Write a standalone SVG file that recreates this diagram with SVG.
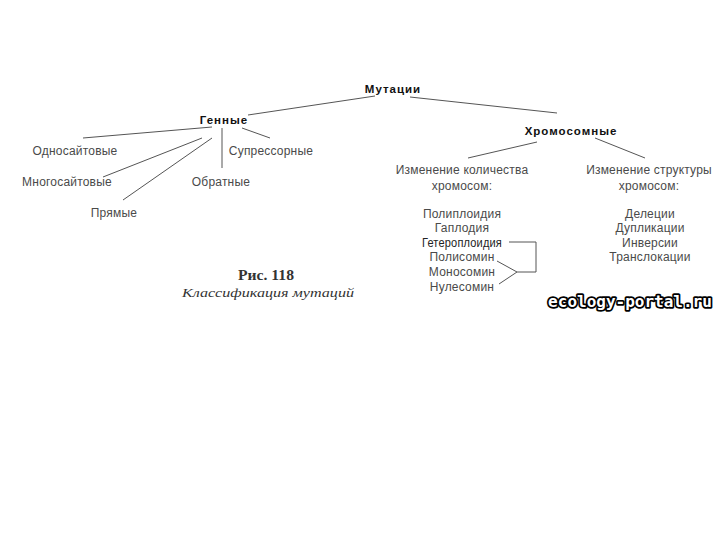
<svg xmlns="http://www.w3.org/2000/svg" width="720" height="540" viewBox="0 0 720 540">
<style>
.t{font-family:"Liberation Sans",Arial,sans-serif;font-size:12px;fill:#4a4a4a;text-anchor:middle;letter-spacing:0.2px}
.b{font-family:"Liberation Sans",Arial,sans-serif;font-size:11.5px;font-weight:bold;fill:#111;text-anchor:middle;letter-spacing:1px}
.c line,.c polyline{stroke:#555;stroke-width:1;fill:none}
.cap{font-family:"Liberation Serif","Times New Roman",serif;fill:#333;text-anchor:middle}
.wm{font-family:"DejaVu Sans Mono","Liberation Mono",monospace;font-size:16px;font-weight:bold;fill:#fff;stroke:#000;stroke-width:3.5;paint-order:stroke;stroke-linejoin:round;text-anchor:middle}
</style>
<rect width="720" height="540" fill="#fff"/>
<g class="c" id="connectors">
<line x1="375" y1="96" x2="248" y2="115"/>
<line x1="410" y1="97" x2="557" y2="113"/>
<line x1="212" y1="127" x2="83" y2="138"/>
<line x1="202" y1="138" x2="103" y2="177"/>
<line x1="212" y1="138" x2="123" y2="200"/>
<line x1="222" y1="128" x2="222" y2="168"/>
<line x1="242" y1="128" x2="270" y2="138"/>
<line x1="537" y1="142" x2="468" y2="158"/>
<line x1="595" y1="138" x2="645" y2="158"/>
<polyline points="509,242 536,242 536,272 517,272"/>
<polyline points="497,261 517,272 499,284"/>
</g>
<g id="root"><text class="b" x="393" y="93">Мутации</text></g>
<g id="gene"><text class="b" x="224" y="124">Генные</text></g>
<g id="chrom"><text class="b" x="571" y="135">Хромосомные</text></g>
<g id="g1"><text class="t" x="75" y="155">Односайтовые</text></g>
<g id="g2"><text class="t" x="271" y="155">Супрессорные</text></g>
<g id="g3"><text class="t" x="67" y="186">Многосайтовые</text></g>
<g id="g4"><text class="t" x="221" y="186">Обратные</text></g>
<g id="g5"><text class="t" x="114" y="217">Прямые</text></g>
<g id="c1"><text class="t" x="462" y="174">Изменение количества</text><text class="t" x="462" y="190">хромосом:</text></g>
<g id="c2"><text class="t" x="649" y="174">Изменение структуры</text><text class="t" x="649" y="190">хромосом:</text></g>
<g id="c1list">
<text class="t" x="462" y="218">Полиплоидия</text>
<text class="t" x="462" y="232">Гаплодия</text>
<text class="t" x="462" y="247" style="fill:#222" textLength="80" lengthAdjust="spacingAndGlyphs">Гетероплоидия</text>
<text class="t" x="462" y="261">Полисомин</text>
<text class="t" x="462" y="276">Моносомин</text>
<text class="t" x="462" y="291">Нулесомин</text>
</g>
<g id="c2list">
<text class="t" x="650" y="218">Делеции</text>
<text class="t" x="650" y="232">Дупликации</text>
<text class="t" x="650" y="247">Инверсии</text>
<text class="t" x="650" y="261">Транслокации</text>
</g>
<g id="caption">
<text class="cap" x="266" y="280" font-size="14" font-weight="bold" textLength="56" lengthAdjust="spacingAndGlyphs">Рис. 118</text>
<text class="cap" x="268" y="297" font-size="13.5" font-style="italic" textLength="172" lengthAdjust="spacingAndGlyphs">Классификация мутаций</text>
</g>
<text class="wm" x="630" y="307">ecology-portal.ru</text>
</svg>
